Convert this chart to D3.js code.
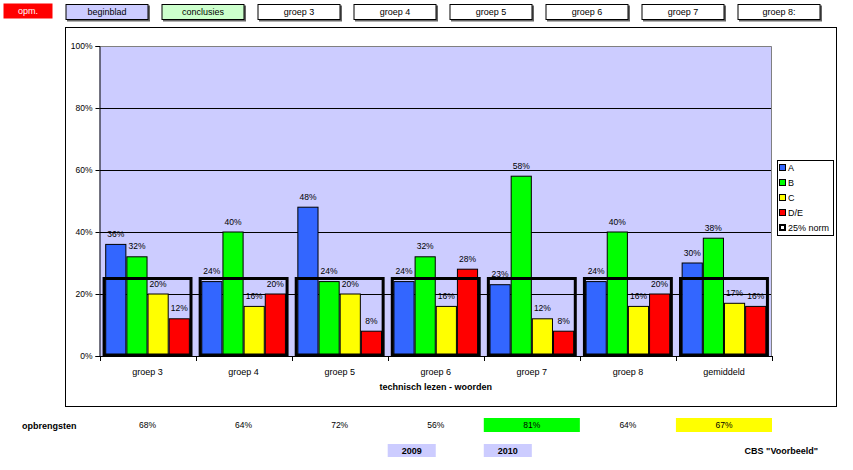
<!DOCTYPE html>
<html><head><meta charset="utf-8">
<script src="https://cdn.jsdelivr.net/npm/d3@7"></script>
<style>
html,body{margin:0;padding:0;background:#fff;}
svg text{font-family:"Liberation Sans",Arial,sans-serif;}
</style>
</head><body>
<svg id="c" width="853" height="470"></svg>
<script>
const categories = ["groep 3","groep 4","groep 5","groep 6","groep 7","groep 8","gemiddeld"];
const seriesNames = ["A","B","C","D/E"];
const valuesA  = [36,24,48,24,23,24,30];
const valuesB  = [32,40,24,32,58,40,38];
const valuesC  = [20,16,20,16,12,16,17];
const valuesDE = [12,20,8,28,8,20,16];
const normValues = [25,25,25,25,25,25,25];
const normName = "25% norm";
const yTicks = [0,20,40,60,80,100];
const navButtons = ["beginblad","conclusies","groep 3","groep 4","groep 5","groep 6","groep 7","groep 8:"];
const opmLabel = "opm.";
const xTitle = "technisch lezen - woorden";
const opbrengstenLabel = "opbrengsten";
const opbrengsten = ["68%","64%","72%","56%","81%","64%","67%"];
const years = ["2009","2010"];
const footer = 'CBS "Voorbeeld"';

const seriesValues = [valuesA, valuesB, valuesC, valuesDE];
const seriesColors = ["#3366ff","#00ff00","#ffff00","#ff0000"];
const buttonFills = ["#ccccff","#ccffcc","#fff","#fff","#fff","#fff","#fff","#fff"];
const opbrengstenFill = {4:"#00ff00", 6:"#ffff00"};
const yearIndex = [3,4];

const svg = d3.select("#c");

// Navigation buttons
svg.append("rect").attr("x",3.5).attr("y",3.5).attr("width",49).attr("height",15).attr("fill","#ff0000");
svg.append("text").attr("x",28).attr("y",11).attr("dy","0.35em").attr("text-anchor","middle")
  .attr("font-size",9).attr("fill","#fff").text(opmLabel);
const bx = d3.scaleBand().domain(navButtons).range([65.5, 65.5+96*navButtons.length]);
const btn = svg.append("g").selectAll("g").data(navButtons).join("g")
  .attr("transform", d => `translate(${bx(d)},4)`);
btn.append("rect").attr("x",1.5).attr("y",1.5).attr("width",83).attr("height",16).attr("fill","#666");
btn.append("rect").attr("x",0.5).attr("y",0.5).attr("width",82).attr("height",15)
  .attr("fill",(d,i)=>buttonFills[i]).attr("stroke","#000");
btn.append("text").attr("x",41.5).attr("y",8).attr("dy","0.35em").attr("text-anchor","middle")
  .attr("font-size",9).text(d=>d);

// Chart frame
svg.append("rect").attr("x",65.5).attr("y",27.5).attr("width",771).attr("height",379)
  .attr("fill","#fff").attr("stroke","#000");

const pLeft = 99.5, pRight = 772, pTop = 46, pBottom = 356;
const x = d3.scaleBand().domain(categories).range([pLeft, pRight]);
const y = d3.scaleLinear().domain([0,100]).range([pBottom, pTop]);
const x1 = d3.scaleBand().domain(seriesNames).range([0, x.bandwidth()]).paddingOuter(0.27);
// plot background
svg.append("rect").attr("x",pLeft).attr("y",pTop).attr("width",pRight-pLeft).attr("height",pBottom-pTop)
  .attr("fill","#ccccff");
// gridlines
svg.append("g").selectAll("line").data(yTicks.filter(t=>t>0 && t<100)).join("line")
  .attr("x1",pLeft).attr("x2",pRight).attr("y1",d=>Math.round(y(d))+0.5).attr("y2",d=>Math.round(y(d))+0.5)
  .attr("stroke","#000");
// plot border top/right grey
svg.append("path").attr("d",`M${pLeft},${pTop+0.5}H${pRight-0.5}V${pBottom}`).attr("fill","none").attr("stroke","#808080");

// bars
const groups = svg.append("g").selectAll("g").data(categories).join("g")
  .attr("transform", d=>`translate(${x(d)},0)`);
seriesNames.forEach((s, si) => {
  groups.append("rect")
    .attr("x", (d,i)=> x1(s)+0.5)
    .attr("y", (d,i)=> y(seriesValues[si][i]))
    .attr("width", x1.bandwidth()-1)
    .attr("height", (d,i)=> pBottom - y(seriesValues[si][i]))
    .attr("fill", seriesColors[si]).attr("stroke","#000");
});
// norm boxes
const xn = d3.scaleBand().domain([0]).range([0, x.bandwidth()]).padding(0.05);
groups.append("rect")
  .attr("x", xn(0)).attr("y",(d,i)=>y(normValues[i]))
  .attr("width", xn.bandwidth()).attr("height",(d,i)=>pBottom - y(normValues[i]) - 1)
  .attr("fill","none").attr("stroke","#000").attr("stroke-width",3);
// data labels
seriesNames.forEach((s, si) => {
  groups.append("text")
    .attr("x", x1(s)+x1.bandwidth()/2)
    .attr("y", (d,i)=> y(seriesValues[si][i]) - 7.5)
    .attr("text-anchor","middle").attr("font-size",8.5)
    .text((d,i)=> seriesValues[si][i] + "%");
});

// y axis
const yAxis = d3.axisLeft(y).tickValues(yTicks).tickFormat(d=>d+"%").tickSize(4).tickPadding(3);
const ya = svg.append("g").attr("transform",`translate(${pLeft},0)`).call(yAxis);
ya.select(".domain").attr("stroke","#000");
ya.selectAll("text").attr("font-size",8.5).attr("font-family","Liberation Sans, Arial, sans-serif").attr("fill","#000");
ya.selectAll("line").attr("stroke","#000");
// x axis
const xa = svg.append("g").attr("transform",`translate(0,${pBottom})`);
xa.append("line").attr("x1",pLeft).attr("x2",pRight).attr("y1",0.5).attr("y2",0.5).attr("stroke","#000");
const bounds = categories.map(c=>x(c)).concat([x(categories[categories.length-1])+x.bandwidth()]);
xa.selectAll("line.t").data(bounds).join("line").attr("class","t")
  .attr("x1",d=>Math.round(d)+0.5).attr("x2",d=>Math.round(d)+0.5).attr("y1",0).attr("y2",5).attr("stroke","#000");
xa.selectAll("text").data(categories).join("text")
  .attr("x",d=>x(d)+x.bandwidth()/2).attr("y",16).attr("dy","0.35em").attr("text-anchor","middle")
  .attr("font-size",9).text(d=>d);
svg.append("text").attr("x",(pLeft+pRight)/2).attr("y",387).attr("dy","0.35em").attr("text-anchor","middle")
  .attr("font-size",9).attr("font-weight","bold").text(xTitle);

// legend
const lg = svg.append("g").attr("transform","translate(777,160)");
lg.append("rect").attr("x",0.5).attr("y",0.5).attr("width",56).attr("height",75).attr("fill","#fff").attr("stroke","#000");
const legItems = seriesNames.concat([normName]);
legItems.forEach((n,i)=>{
  const cy = 7 + i*15;
  if (i < 4) {
    lg.append("rect").attr("x",2.5).attr("y",cy-2.5).attr("width",6).attr("height",6)
      .attr("fill",seriesColors[i]).attr("stroke","#000");
  } else {
    lg.append("rect").attr("x",3).attr("y",cy-2).attr("width",5).attr("height",5)
      .attr("fill","#fff").attr("stroke","#000").attr("stroke-width",2);
  }
  lg.append("text").attr("x",11).attr("y",cy+0.5).attr("dy","0.35em").attr("font-size",9).text(n);
});

// opbrengsten row
svg.append("text").attr("x",22).attr("y",426).attr("dy","0.35em").attr("font-size",9)
  .attr("font-weight","bold").text(opbrengstenLabel);
categories.forEach((c,i)=>{
  if (opbrengstenFill[i]) {
    svg.append("rect").attr("x",x(c)).attr("y",418).attr("width",x.bandwidth()).attr("height",14)
      .attr("fill",opbrengstenFill[i]);
  }
  svg.append("text").attr("x",x(c)+x.bandwidth()/2).attr("y",425.5).attr("dy","0.35em")
    .attr("text-anchor","middle").attr("font-size",8.5).text(opbrengsten[i]);
});
years.forEach((yr,i)=>{
  const c = categories[yearIndex[i]];
  svg.append("rect").attr("x",x(c)).attr("y",444).attr("width",x.bandwidth()/2).attr("height",13)
    .attr("fill","#ccccff");
  svg.append("text").attr("x",x(c)+x.bandwidth()/4).attr("y",451).attr("dy","0.35em")
    .attr("text-anchor","middle").attr("font-size",9).attr("font-weight","bold").text(yr);
});
svg.append("text").attr("x",818).attr("y",451).attr("dy","0.35em").attr("text-anchor","end")
  .attr("font-size",9).attr("font-weight","bold").text(footer);
</script>
</body></html>
